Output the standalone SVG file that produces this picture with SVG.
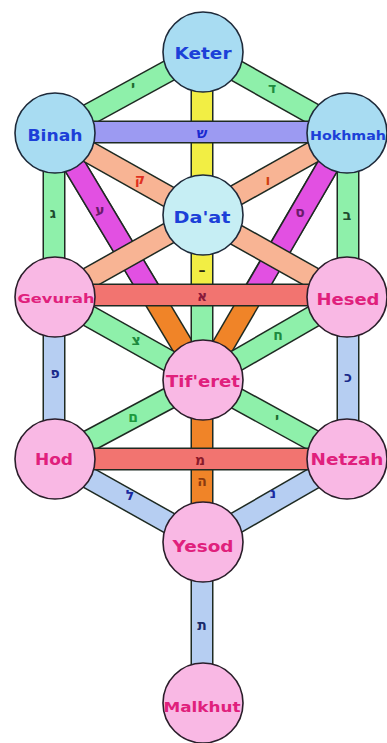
<svg xmlns="http://www.w3.org/2000/svg" width="387" height="743" viewBox="0 0 387 743">
<style>
.o{stroke:#1e2a22;stroke-width:23;stroke-linecap:butt}
.f{stroke-width:20;stroke-linecap:butt}
.gr{stroke:#8ef0aa}.ye{stroke:#f2ee44}.lv{stroke:#9c9af2}.sa{stroke:#f8b494}.mg{stroke:#e250e2}.or{stroke:#f08428}.rd{stroke:#f27470}.lb{stroke:#b6cef2}
.cb{fill:#a8dcf2;stroke:#1e2a3a;stroke-width:1.6}
.cd{fill:#c6eef4;stroke:#1e2a3a;stroke-width:1.6}
.cp{fill:#f9b8e4;stroke:#2a1e2a;stroke-width:1.6}
.tb{font-family:"DejaVu Sans",Verdana,sans-serif;font-weight:bold;fill:#1c40d8;text-anchor:middle}
.tp{font-family:"DejaVu Sans",Verdana,sans-serif;font-weight:bold;fill:#e0207c;text-anchor:middle}
.h{font-family:"DejaVu Sans",sans-serif;font-weight:bold;font-size:14px;text-anchor:middle}
</style>
<rect width="387" height="743" fill="#ffffff"/>
<g id="connectors">
<line class="o" x1="203" y1="52" x2="55" y2="133"/><line class="f gr" x1="203" y1="52" x2="55" y2="133"/>
<line class="o" x1="203" y1="52" x2="347" y2="133"/><line class="f gr" x1="203" y1="52" x2="347" y2="133"/>
<line class="o" x1="54" y1="133" x2="54" y2="297"/><line class="f gr" x1="54" y1="133" x2="54" y2="297"/>
<line class="o" x1="348" y1="133" x2="348" y2="297"/><line class="f gr" x1="348" y1="133" x2="348" y2="297"/>
<line class="o" x1="54" y1="297" x2="54" y2="459"/><line class="f lb" x1="54" y1="297" x2="54" y2="459"/>
<line class="o" x1="348" y1="297" x2="348" y2="459"/><line class="f lb" x1="348" y1="297" x2="348" y2="459"/>
<line class="o" x1="55" y1="133" x2="203" y2="380"/><line class="f or" x1="55" y1="133" x2="203" y2="380"/>
<line class="o" x1="347" y1="133" x2="203" y2="380"/><line class="f or" x1="347" y1="133" x2="203" y2="380"/>
<line class="o" x1="55" y1="133" x2="155" y2="300"/><line class="f mg" x1="55" y1="133" x2="155" y2="300"/>
<line class="o" x1="347" y1="133" x2="250" y2="300"/><line class="f mg" x1="347" y1="133" x2="250" y2="300"/>
<line class="o" x1="55" y1="133" x2="347" y2="297"/><line class="f sa" x1="55" y1="133" x2="347" y2="297"/>
<line class="o" x1="347" y1="133" x2="55" y2="297"/><line class="f sa" x1="347" y1="133" x2="55" y2="297"/>
<line class="o" x1="202" y1="52" x2="202" y2="380"/><line class="f gr" x1="202" y1="52" x2="202" y2="380"/>
<line class="f ye" x1="202" y1="52" x2="202" y2="296"/>
<line class="o" x1="202" y1="380" x2="202" y2="542"/><line class="f or" x1="202" y1="380" x2="202" y2="542"/>
<line class="o" x1="202" y1="542" x2="202" y2="703"/><line class="f lb" x1="202" y1="542" x2="202" y2="703"/>
<line class="o" x1="55" y1="297" x2="203" y2="380"/><line class="f gr" x1="55" y1="297" x2="203" y2="380"/>
<line class="o" x1="347" y1="297" x2="203" y2="380"/><line class="f gr" x1="347" y1="297" x2="203" y2="380"/>
<line class="o" x1="55" y1="459" x2="203" y2="380"/><line class="f gr" x1="55" y1="459" x2="203" y2="380"/>
<line class="o" x1="347" y1="459" x2="203" y2="380"/><line class="f gr" x1="347" y1="459" x2="203" y2="380"/>
<line class="o" x1="55" y1="459" x2="203" y2="542"/><line class="f lb" x1="55" y1="459" x2="203" y2="542"/>
<line class="o" x1="347" y1="459" x2="203" y2="542"/><line class="f lb" x1="347" y1="459" x2="203" y2="542"/>
<line class="o" x1="55" y1="132" x2="347" y2="132"/><line class="f lv" x1="55" y1="132" x2="347" y2="132"/>
<line class="o" x1="55" y1="295" x2="347" y2="295"/><line class="f rd" x1="55" y1="295" x2="347" y2="295"/>
<line class="o" x1="55" y1="459" x2="347" y2="459"/><line class="f rd" x1="55" y1="459" x2="347" y2="459"/>
<text class="h" x="133" y="91" fill="#1e6a2e">י</text>
<text class="h" x="272" y="93" fill="#1e8a3e">ד</text>
<text class="h" x="202" y="138" fill="#1a2ad0">ש</text>
<text class="h" x="140" y="184" fill="#e03020">ק</text>
<text class="h" x="268" y="185" fill="#d04010">ו</text>
<text class="h" x="100" y="215" fill="#6a1a6a">ע</text>
<text class="h" x="300" y="217" fill="#6a1a6a">ס</text>
<text class="h" x="53" y="218" fill="#1e4a2e">ג</text>
<text class="h" x="347" y="220" fill="#1e4a2e">ב</text>
<text class="h" x="202" y="275" fill="#2a2a10">–</text>
<text class="h" x="202" y="301" fill="#8a1a3a">א</text>
<text class="h" x="136" y="345" fill="#1e8a3e">צ</text>
<text class="h" x="278" y="340" fill="#1e8a3e">ח</text>
<text class="h" x="55" y="378" fill="#1a2a8a">פ</text>
<text class="h" x="348" y="382" fill="#1a2a8a">כ</text>
<text class="h" x="133" y="422" fill="#1e9a3e">ם</text>
<text class="h" x="277" y="423" fill="#1e6a2e">י</text>
<text class="h" x="200" y="465" fill="#8a1a2a">מ</text>
<text class="h" x="202" y="486" fill="#8a3a10">ה</text>
<text class="h" x="130" y="500" fill="#1a2aa0">ל</text>
<text class="h" x="273" y="498" fill="#1a2aa0">נ</text>
<text class="h" x="202" y="630" fill="#1a2a6a">ת</text>
</g>
<g id="keter"><circle class="cb" cx="203" cy="52" r="40"/><text class="tb" x="203" y="59" font-size="16" textLength="57" lengthAdjust="spacingAndGlyphs">Keter</text></g>
<g id="binah"><circle class="cb" cx="55" cy="133" r="40"/><text class="tb" x="55" y="141" font-size="16" textLength="55" lengthAdjust="spacingAndGlyphs">Binah</text></g>
<g id="hokhmah"><circle class="cb" cx="347" cy="133" r="40"/><text class="tb" x="348" y="140" font-size="12" textLength="76" lengthAdjust="spacingAndGlyphs">Hokhmah</text></g>
<g id="daat"><circle class="cd" cx="203" cy="215" r="40"/><text class="tb" x="202" y="223" font-size="16" textLength="57" lengthAdjust="spacingAndGlyphs">Da'at</text></g>
<g id="gevurah"><circle class="cp" cx="55" cy="297" r="40"/><text class="tp" x="56" y="303" font-size="13" textLength="77" lengthAdjust="spacingAndGlyphs">Gevurah</text></g>
<g id="hesed"><circle class="cp" cx="347" cy="297" r="40"/><text class="tp" x="348" y="305" font-size="16" textLength="63" lengthAdjust="spacingAndGlyphs">Hesed</text></g>
<g id="tiferet"><circle class="cp" cx="203" cy="380" r="40"/><text class="tp" x="203" y="387" font-size="16" textLength="74" lengthAdjust="spacingAndGlyphs">Tif'eret</text></g>
<g id="hod"><circle class="cp" cx="55" cy="459" r="40"/><text class="tp" x="54" y="465" font-size="15" textLength="38" lengthAdjust="spacingAndGlyphs">Hod</text></g>
<g id="netzah"><circle class="cp" cx="347" cy="459" r="40"/><text class="tp" x="347" y="465" font-size="15" textLength="73" lengthAdjust="spacingAndGlyphs">Netzah</text></g>
<g id="yesod"><circle class="cp" cx="203" cy="542" r="40"/><text class="tp" x="203" y="552" font-size="15" textLength="61" lengthAdjust="spacingAndGlyphs">Yesod</text></g>
<g id="malkhut"><circle class="cp" cx="203" cy="703" r="40"/><text class="tp" x="202" y="712" font-size="14" textLength="77" lengthAdjust="spacingAndGlyphs">Malkhut</text></g>
</svg>
